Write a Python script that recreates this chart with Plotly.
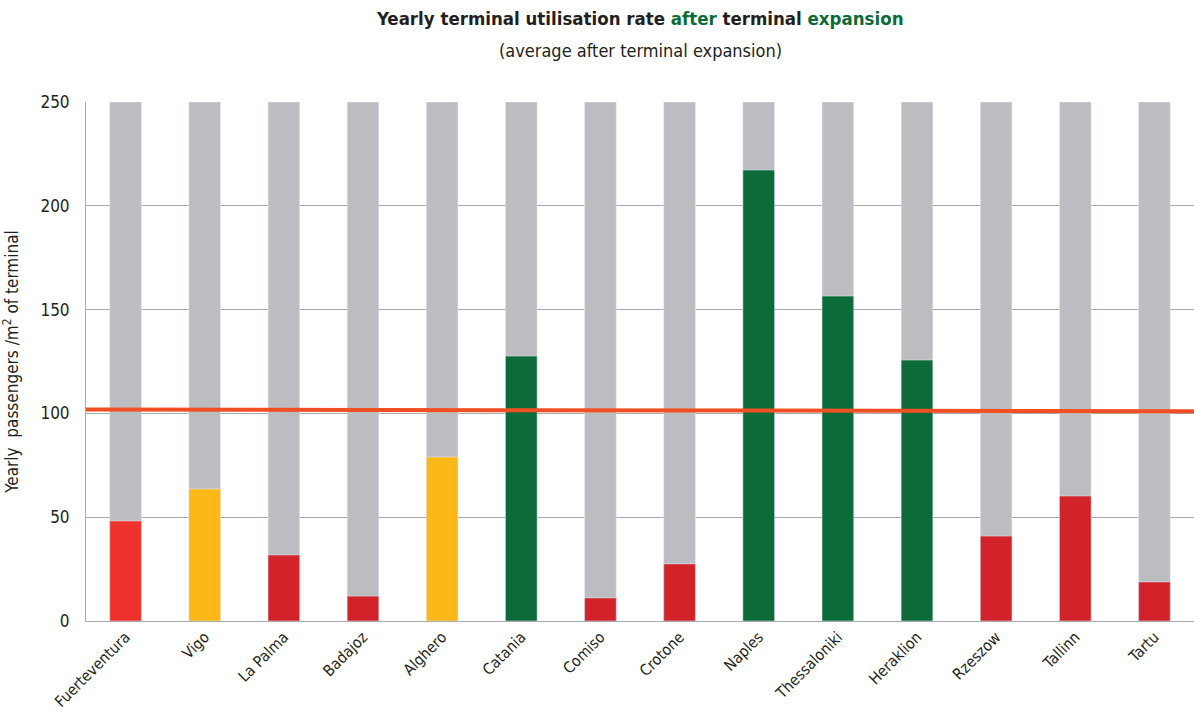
import plotly.graph_objects as go

airports = ["Fuerteventura", "Vigo", "La Palma", "Badajoz", "Alghero", "Catania", "Comiso",
            "Crotone", "Naples", "Thessaloniki", "Heraklion", "Rzeszow", "Tallinn", "Tartu"]
utilisation = [48.2, 63.6, 31.8, 12.0, 79.0, 127.6, 11.1, 27.5, 217.2, 156.5, 125.7, 40.9, 60.2, 18.8]
status = ["red1", "yellow", "red", "red", "yellow", "green", "red", "red", "green", "green", "green",
          "red", "red", "red"]
capacity_max = 250
average_start = 101.9
average_end = 101.0
y_ticks = [0, 50, 100, 150, 200, 250]

palette = {"red1": "#EE312D", "red": "#D2232A", "yellow": "#FBB817", "green": "#0C6B39"}
colors = [palette[s] for s in status]

font_family = "DejaVu Sans Condensed, Liberation Sans Narrow, Roboto, Arial"

fig = go.Figure()
fig.add_trace(go.Bar(x=airports, y=[capacity_max] * len(airports), marker_color="#BCBDC1",
                     width=0.4, showlegend=False, hoverinfo="skip"))
fig.add_trace(go.Bar(x=airports, y=utilisation, marker_color=colors, width=0.4,
                     showlegend=False))
fig.update_layout(barmode="overlay")

fig.add_shape(type="line", xref="paper", yref="y", x0=0, x1=1, y0=average_start, y1=average_end,
              line=dict(color="#F04E23", width=4), layer="above")

fig.update_layout(
    width=1194, height=711,
    margin=dict(l=86, r=0, t=102, b=90, autoexpand=False),
    plot_bgcolor="white", paper_bgcolor="white",
    font=dict(family=font_family, color="#231F20"),
    annotations=[
        dict(text="<b>Yearly terminal utilisation rate <span style='color:#0C6B39'>after</span> terminal "
                  "<span style='color:#0C6B39'>expansion</span></b>",
             xref="paper", yref="paper", x=0.5, y=1, yshift=84, showarrow=False,
             font=dict(size=18.5, family=font_family, color="#231F20"), yanchor="middle"),
        dict(text="(average after terminal expansion)",
             xref="paper", yref="paper", x=0.5, y=1, yshift=52, showarrow=False,
             font=dict(size=18, family=font_family, color="#231F20"), yanchor="middle"),
    ],
    yaxis=dict(range=[0, capacity_max], tickvals=y_ticks, showgrid=True, gridcolor="#A7A9AC",
               gridwidth=1, showline=True, linecolor="#A7A9AC", linewidth=1,
               tickfont=dict(size=17), ticks="", ticklen=0, automargin=False,
               ticklabelstandoff=12,
               title=dict(text="Yearly  passengers /m<sup>2</sup> of terminal", font=dict(size=17),
                          standoff=18),
               zeroline=False),
    xaxis=dict(tickangle=-45, tickfont=dict(size=15.5), showline=True, linecolor="#A7A9AC",
               linewidth=1, showgrid=False, automargin=False),
    bargap=0.6,
)

fig.write_html("out.html", config={"displayModeBar": False},
               post_script="document.body.style.margin='0';document.body.style.overflow='hidden';")
